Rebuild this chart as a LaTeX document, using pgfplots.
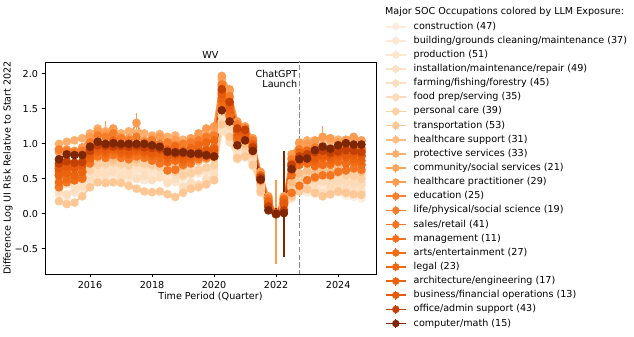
\documentclass[border=0pt]{standalone}
\usepackage{fontspec}
\setmainfont{DejaVu Sans}
\usepackage{pgfplots}
\pgfplotsset{compat=1.18}

\definecolor{o1}{HTML}{FEEDDC}
\definecolor{o2}{HTML}{FEE8D3}
\definecolor{o3}{HTML}{FEE5CC}
\definecolor{o4}{HTML}{FEE2C6}
\definecolor{o5}{HTML}{FDDFC0}
\definecolor{o6}{HTML}{FDDBB8}
\definecolor{o7}{HTML}{FDD0A4}
\definecolor{o8}{HTML}{FDC895}
\definecolor{o9}{HTML}{FDBE85}
\definecolor{o10}{HTML}{FDAF6D}
\definecolor{o11}{HTML}{FDA45D}
\definecolor{o12}{HTML}{FD9B51}
\definecolor{o13}{HTML}{F98230}
\definecolor{o14}{HTML}{F77C29}
\definecolor{o15}{HTML}{F57622}
\definecolor{o16}{HTML}{F3701C}
\definecolor{o17}{HTML}{F16C17}
\definecolor{o18}{HTML}{EE6712}
\definecolor{o19}{HTML}{EB620F}
\definecolor{o20}{HTML}{E65A0B}
\definecolor{o21}{HTML}{C44103}
\definecolor{o22}{HTML}{7F2704}
\definecolor{vline}{HTML}{8C8C8C}

\tikzset{ser/.style={color=#1, mark=*, mark size=3.4pt, line width=1.8pt, mark options={solid}}}

\begin{document}
\begin{tikzpicture}
\path[use as bounding box] (0,0) rectangle (634pt,337pt);
\begin{axis}[
  at={(45pt,63pt)}, anchor=south west,
  width=331pt, height=212pt, scale only axis,
  xmin=2014.55, xmax=2025.22, ymin=-0.86, ymax=2.17,
  xtick={2016,2018,2020,2022,2024}, xticklabels={2016,2018,2020,2022,2024},
  ytick={-0.5,0,0.5,1,1.5,2}, yticklabels={−0.5,0.0,0.5,1.0,1.5,2.0},
  tick align=outside, tick pos=left, major tick length=3.5pt,
  every tick/.style={black, line width=0.8pt},
  axis line style={line width=0.8pt},
  font=\fontsize{9.6}{11}\selectfont,
  title={WV},
  every axis title/.style={at={(axis description cs:0.5,1)}, anchor=base, yshift=3.7pt},
  xlabel={Time Period (Quarter)},
  xlabel style={at={(axis description cs:0.5,-0.108)}, anchor=center},
  ylabel={Difference Log UI Risk Relative to Start 2022},
  ylabel style={at={(axis description cs:-0.112,0.5)}, anchor=center},
  legend cell align=left,
  legend style={at={(axis description cs:1.027,1.191)}, anchor=north west,
    draw=none, fill=none, inner sep=0pt, outer sep=0pt, row sep=3.94pt, column sep=7pt,
    font=\fontsize{9.6}{11}\selectfont,
    nodes={inner sep=0pt, text height=7.3pt, text depth=2.2pt}},
  legend image code/.code={
    \draw[#1, mark=none] (0pt,0pt) -- (20pt,0pt);
    \draw[#1, mark=none, line width=1.2pt] (10pt,-4.5pt) -- (10pt,4.5pt);
    \draw[#1, only marks, mark size=2.8pt] plot coordinates {(10pt,0pt)};
  },
]
\addplot[ser=o1] coordinates {(2015,0.58)(2015.25,0.55)(2015.5,0.52)(2015.75,0.60)(2016,0.66)(2016.25,0.72)(2016.5,0.74)(2016.75,0.70)(2017,0.71)(2017.25,0.73)(2017.5,0.70)(2017.75,0.68)(2018,0.69)(2018.25,0.72)(2018.5,0.70)(2018.75,0.66)(2019,0.64)(2019.25,0.67)(2019.5,0.65)(2019.75,0.62)(2020,0.60)(2020.25,1.30)(2020.5,1.15)(2020.75,0.82)(2021,0.80)(2021.25,0.72)(2021.5,0.35)(2021.75,0.12)(2022,0.00)(2022.25,0.10)(2022.5,0.28)(2022.75,0.35)(2023,0.30)(2023.25,0.28)(2023.5,0.25)(2023.75,0.27)(2024,0.30)(2024.25,0.26)(2024.5,0.24)(2024.75,0.22)};
\addlegendentry{construction (47)}
\addplot[ser=o2] coordinates {(2015,0.28)(2015.25,0.25)(2015.5,0.30)(2015.75,0.35)(2016,0.45)(2016.25,0.52)(2016.5,0.50)(2016.75,0.55)(2017,0.52)(2017.25,0.50)(2017.5,0.54)(2017.75,0.48)(2018,0.50)(2018.25,0.52)(2018.5,0.47)(2018.75,0.45)(2019,0.40)(2019.25,0.44)(2019.5,0.42)(2019.75,0.45)(2020,0.50)(2020.25,1.20)(2020.5,1.05)(2020.75,0.78)(2021,0.85)(2021.25,0.70)(2021.5,0.32)(2021.75,0.15)(2022,0.00)(2022.25,0.08)(2022.5,0.30)(2022.75,0.38)(2023,0.35)(2023.25,0.32)(2023.5,0.38)(2023.75,0.30)(2024,0.34)(2024.25,0.32)(2024.5,0.36)(2024.75,0.30)};
\addlegendentry{building/grounds cleaning/maintenance (37)}
\addplot[ser=o3] coordinates {(2015,0.45)(2015.25,0.42)(2015.5,0.40)(2015.75,0.48)(2016,0.55)(2016.25,0.62)(2016.5,0.60)(2016.75,0.64)(2017,0.62)(2017.25,0.58)(2017.5,0.62)(2017.75,0.60)(2018,0.58)(2018.25,0.60)(2018.5,0.56)(2018.75,0.55)(2019,0.52)(2019.25,0.56)(2019.5,0.58)(2019.75,0.60)(2020,0.62)(2020.25,1.25)(2020.5,1.10)(2020.75,0.85)(2021,0.90)(2021.25,0.78)(2021.5,0.40)(2021.75,0.18)(2022,0.00)(2022.25,0.12)(2022.5,0.38)(2022.75,0.48)(2023,0.52)(2023.25,0.48)(2023.5,0.50)(2023.75,0.46)(2024,0.52)(2024.25,0.50)(2024.5,0.48)(2024.75,0.45)};
\addlegendentry{production (51)}
\addplot[ser=o4] coordinates {(2015,0.55)(2015.25,0.50)(2015.5,0.52)(2015.75,0.55)(2016,0.60)(2016.25,0.66)(2016.5,0.64)(2016.75,0.68)(2017,0.62)(2017.25,0.65)(2017.5,0.67)(2017.75,0.63)(2018,0.66)(2018.25,0.64)(2018.5,0.60)(2018.75,0.62)(2019,0.58)(2019.25,0.62)(2019.5,0.60)(2019.75,0.63)(2020,0.65)(2020.25,1.32)(2020.5,1.18)(2020.75,0.92)(2021,0.95)(2021.25,0.82)(2021.5,0.45)(2021.75,0.20)(2022,0.00)(2022.25,0.15)(2022.5,0.42)(2022.75,0.55)(2023,0.58)(2023.25,0.55)(2023.5,0.60)(2023.75,0.56)(2024,0.62)(2024.25,0.58)(2024.5,0.60)(2024.75,0.55)};
\addlegendentry{installation/maintenance/repair (49)}
\addplot[ser=o5] coordinates {(2015,0.32)(2015.25,0.28)(2015.5,0.35)(2015.75,0.40)(2016,0.50)(2016.25,0.58)(2016.5,0.55)(2016.75,0.60)(2017,0.52)(2017.25,0.56)(2017.5,0.50)(2017.75,0.54)(2018,0.48)(2018.25,0.52)(2018.5,0.44)(2018.75,0.50)(2019,0.38)(2019.25,0.45)(2019.5,0.42)(2019.75,0.50)(2020,0.55)(2020.25,1.18)(2020.5,1.02)(2020.75,0.78)(2021,0.82)(2021.25,0.68)(2021.5,0.30)(2021.75,0.10)(2022,0.00)(2022.25,0.05)(2022.5,0.22)(2022.75,0.35)(2023,0.40)(2023.25,0.36)(2023.5,0.30)(2023.75,0.38)(2024,0.42)(2024.25,0.35)(2024.5,0.40)(2024.75,0.33)};
\addlegendentry{farming/fishing/forestry (45)}
\addplot[ser=o6] coordinates {(2015,0.68)(2015.25,0.66)(2015.5,0.70)(2015.75,0.68)(2016,0.72)(2016.25,0.74)(2016.5,0.70)(2016.75,0.72)(2017,0.70)(2017.25,0.68)(2017.5,0.72)(2017.75,0.70)(2018,0.68)(2018.25,0.66)(2018.5,0.64)(2018.75,0.66)(2019,0.62)(2019.25,0.65)(2019.5,0.64)(2019.75,0.66)(2020,0.68)(2020.25,1.40)(2020.5,1.25)(2020.75,0.95)(2021,0.92)(2021.25,0.80)(2021.5,0.38)(2021.75,0.15)(2022,0.00)(2022.25,0.12)(2022.5,0.35)(2022.75,0.45)(2023,0.48)(2023.25,0.44)(2023.5,0.46)(2023.75,0.42)(2024,0.48)(2024.25,0.45)(2024.5,0.44)(2024.75,0.42)};
\addlegendentry{food prep/serving (35)}
\addplot[ser=o7] coordinates {(2015,0.50)(2015.25,0.46)(2015.5,0.48)(2015.75,0.52)(2016,0.62)(2016.25,0.70)(2016.5,0.72)(2016.75,0.74)(2017,0.72)(2017.25,0.70)(2017.5,0.74)(2017.75,0.72)(2018,0.70)(2018.25,0.68)(2018.5,0.62)(2018.75,0.60)(2019,0.55)(2019.25,0.58)(2019.5,0.62)(2019.75,0.66)(2020,0.70)(2020.25,1.45)(2020.5,1.28)(2020.75,0.98)(2021,0.96)(2021.25,0.85)(2021.5,0.42)(2021.75,0.18)(2022,0.00)(2022.25,0.14)(2022.5,0.40)(2022.75,0.50)(2023,0.52)(2023.25,0.50)(2023.5,0.55)(2023.75,0.52)(2024,0.58)(2024.25,0.55)(2024.5,0.54)(2024.75,0.50)};
\addlegendentry{personal care (39)}
\addplot[ser=o8] coordinates {(2015,0.18)(2015.25,0.14)(2015.5,0.16)(2015.75,0.25)(2016,0.38)(2016.25,0.45)(2016.5,0.44)(2016.75,0.45)(2017,0.44)(2017.25,0.40)(2017.5,0.36)(2017.75,0.32)(2018,0.31)(2018.25,0.32)(2018.5,0.28)(2018.75,0.24)(2019,0.30)(2019.25,0.36)(2019.5,0.38)(2019.75,0.42)(2020,0.48)(2020.25,1.28)(2020.5,1.10)(2020.75,0.80)(2021,0.82)(2021.25,0.70)(2021.5,0.32)(2021.75,0.12)(2022,0.00)(2022.25,0.08)(2022.5,0.25)(2022.75,0.32)(2023,0.35)(2023.25,0.30)(2023.5,0.25)(2023.75,0.28)(2024,0.32)(2024.25,0.30)(2024.5,0.28)(2024.75,0.27)};
\addlegendentry{transportation (53)}
\addplot[ser=o9] coordinates {(2015,0.62)(2015.25,0.58)(2015.5,0.60)(2015.75,0.65)(2016,0.72)(2016.25,0.80)(2016.5,0.82)(2016.75,0.78)(2017,0.80)(2017.25,0.82)(2017.5,0.78)(2017.75,0.80)(2018,0.76)(2018.25,0.78)(2018.5,0.72)(2018.75,0.70)(2019,0.68)(2019.25,0.72)(2019.5,0.75)(2019.75,0.78)(2020,0.80)(2020.25,1.50)(2020.5,1.32)(2020.75,1.00)(2021,1.00)(2021.25,0.88)(2021.5,0.45)(2021.75,0.20)(2022,0.00)(2022.25,0.15)(2022.5,0.45)(2022.75,0.58)(2023,0.62)(2023.25,0.58)(2023.5,0.65)(2023.75,0.60)(2024,0.66)(2024.25,0.62)(2024.5,0.64)(2024.75,0.60)};
\addlegendentry{healthcare support (31)}
\addplot[ser=o10] coordinates {(2015,1.00)(2015.25,1.03)(2015.5,1.05)(2015.75,1.08)(2016,1.15)(2016.25,1.22)(2016.5,1.18)(2016.75,1.20)(2017,1.15)(2017.25,1.18)(2017.5,1.15)(2017.75,1.15)(2018,1.12)(2018.25,1.14)(2018.5,1.10)(2018.75,1.12)(2019,1.06)(2019.25,1.05)(2019.5,1.08)(2019.75,1.12)(2020,1.20)(2020.25,1.92)(2020.5,1.75)(2020.75,1.30)(2021,1.22)(2021.25,1.05)(2021.5,0.58)(2021.75,0.22)(2022,0.00)(2022.25,0.22)(2022.5,0.80)(2022.75,1.00)(2023,1.05)(2023.25,1.02)(2023.5,1.08)(2023.75,1.04)(2024,1.06)(2024.25,1.05)(2024.5,1.08)(2024.75,1.04)};
\addlegendentry{protective services (33)}
\addplot[ser=o11] coordinates {(2015,0.65)(2015.25,0.68)(2015.5,0.70)(2015.75,0.72)(2016,0.95)(2016.25,1.05)(2016.5,1.00)(2016.75,1.08)(2017,0.98)(2017.25,1.02)(2017.5,1.00)(2017.75,0.98)(2018,1.02)(2018.25,0.96)(2018.5,0.98)(2018.75,1.05)(2019,0.95)(2019.25,1.00)(2019.5,1.02)(2019.75,1.10)(2020,1.15)(2020.25,1.82)(2020.5,1.65)(2020.75,1.22)(2021,1.18)(2021.25,1.02)(2021.5,0.55)(2021.75,0.20)(2022,0.00)(2022.25,0.20)(2022.5,0.72)(2022.75,0.92)(2023,0.95)(2023.25,0.92)(2023.5,0.98)(2023.75,0.94)(2024,0.96)(2024.25,0.95)(2024.5,0.98)(2024.75,0.92)};
\addlegendentry{community/social services (21)}
\addplot[ser=o12, error bars/.cd, y dir=both, y explicit, error mark=none, error bar style={line width=1.3pt}] coordinates {
(2015,0.88) +- (0,0.04) (2015.25,0.92) +- (0,0.04) (2015.5,0.90) +- (0,0.04) (2015.75,0.95) +- (0,0.04)
(2016,1.10) +- (0,0.04) (2016.25,1.18) +- (0,0.06) (2016.5,1.15) +- (0,0.18) (2016.75,1.22) +- (0,0.05)
(2017,1.10) +- (0,0.04) (2017.25,1.08) +- (0,0.04) (2017.5,1.30) +- (0,0.14) (2017.75,1.05) +- (0,0.04)
(2018,1.08) +- (0,0.04) (2018.25,1.10) +- (0,0.04) (2018.5,1.02) +- (0,0.04) (2018.75,1.05) +- (0,0.04)
(2019,1.00) +- (0,0.04) (2019.25,1.08) +- (0,0.04) (2019.5,1.15) +- (0,0.04) (2019.75,1.22) +- (0,0.04)
(2020,1.25) +- (0,0.04) (2020.25,1.97) +- (0,0.06) (2020.5,1.78) +- (0,0.05) (2020.75,1.32) +- (0,0.05)
(2021,1.25) +- (0,0.05) (2021.25,1.08) +- (0,0.05) (2021.5,0.60) +- (0,0.05) (2021.75,0.25) +- (0,0.05)
(2022,0.00) += (0,0.48) -= (0,0.72) (2022.25,0.25) +- (0,0.08) (2022.5,0.85) +- (0,0.05) (2022.75,1.02) +- (0,0.04)
(2023,1.00) +- (0,0.04) (2023.25,1.05) +- (0,0.04) (2023.5,1.10) +- (0,0.15) (2023.75,1.08) +- (0,0.04)
(2024,1.02) +- (0,0.04) (2024.25,1.06) +- (0,0.04) (2024.5,1.10) +- (0,0.04) (2024.75,1.05) +- (0,0.04)};
\addlegendentry{healthcare practitioner (29)}
\addplot[ser=o13] coordinates {(2015,0.55)(2015.25,0.58)(2015.5,0.52)(2015.75,0.60)(2016,0.85)(2016.25,0.95)(2016.5,0.90)(2016.75,0.98)(2017,0.88)(2017.25,0.92)(2017.5,0.90)(2017.75,0.86)(2018,0.90)(2018.25,0.88)(2018.5,0.80)(2018.75,0.85)(2019,0.82)(2019.25,0.86)(2019.5,0.90)(2019.75,0.92)(2020,0.95)(2020.25,1.65)(2020.5,1.48)(2020.75,1.12)(2021,1.10)(2021.25,0.95)(2021.5,0.50)(2021.75,0.18)(2022,0.00)(2022.25,0.18)(2022.5,0.62)(2022.75,0.78)(2023,0.80)(2023.25,0.75)(2023.5,0.72)(2023.75,0.70)(2024,0.74)(2024.25,0.72)(2024.5,0.75)(2024.75,0.70)};
\addlegendentry{education (25)}
\addplot[ser=o14] coordinates {(2015,0.92)(2015.25,0.90)(2015.5,0.88)(2015.75,0.90)(2016,1.02)(2016.25,1.12)(2016.5,1.10)(2016.75,1.15)(2017,1.08)(2017.25,1.05)(2017.5,1.10)(2017.75,1.02)(2018,1.05)(2018.25,1.00)(2018.5,1.02)(2018.75,0.98)(2019,1.00)(2019.25,1.02)(2019.5,1.05)(2019.75,1.10)(2020,1.12)(2020.25,1.85)(2020.5,1.68)(2020.75,1.28)(2021,1.22)(2021.25,1.05)(2021.5,0.55)(2021.75,0.22)(2022,0.00)(2022.25,0.22)(2022.5,0.78)(2022.75,0.92)(2023,0.90)(2023.25,0.95)(2023.5,0.92)(2023.75,0.88)(2024,0.95)(2024.25,0.92)(2024.5,0.90)(2024.75,0.94)};
\addlegendentry{life/physical/social science (19)}
\addplot[ser=o15] coordinates {(2015,0.38)(2015.25,0.45)(2015.5,0.48)(2015.75,0.50)(2016,0.72)(2016.25,0.82)(2016.5,0.80)(2016.75,0.84)(2017,0.80)(2017.25,0.78)(2017.5,0.82)(2017.75,0.80)(2018,0.76)(2018.25,0.72)(2018.5,0.62)(2018.75,0.63)(2019,0.70)(2019.25,0.72)(2019.5,0.78)(2019.75,0.80)(2020,0.82)(2020.25,1.55)(2020.5,1.40)(2020.75,1.05)(2021,1.08)(2021.25,0.92)(2021.5,0.48)(2021.75,0.15)(2022,0.00)(2022.25,0.12)(2022.5,0.30)(2022.75,0.40)(2023,0.48)(2023.25,0.52)(2023.5,0.55)(2023.75,0.55)(2024,0.60)(2024.25,0.62)(2024.5,0.65)(2024.75,0.63)};
\addlegendentry{sales/retail (41)}
\addplot[ser=o16] coordinates {(2015,0.68)(2015.25,0.70)(2015.5,0.72)(2015.75,0.74)(2016,0.88)(2016.25,0.95)(2016.5,0.92)(2016.75,0.96)(2017,0.94)(2017.25,0.92)(2017.5,0.95)(2017.75,0.92)(2018,0.90)(2018.25,0.92)(2018.5,0.86)(2018.75,0.88)(2019,0.85)(2019.25,0.88)(2019.5,0.90)(2019.75,0.92)(2020,0.95)(2020.25,1.70)(2020.5,1.52)(2020.75,1.18)(2021,1.15)(2021.25,0.98)(2021.5,0.52)(2021.75,0.15)(2022,0.00)(2022.25,0.18)(2022.5,0.68)(2022.75,0.82)(2023,0.85)(2023.25,0.82)(2023.5,0.86)(2023.75,0.84)(2024,0.88)(2024.25,0.85)(2024.5,0.86)(2024.75,0.84)};
\addlegendentry{management (11)}
\addplot[ser=o17] coordinates {(2015,0.45)(2015.25,0.50)(2015.5,0.48)(2015.75,0.52)(2016,0.78)(2016.25,0.88)(2016.5,0.85)(2016.75,0.90)(2017,0.86)(2017.25,0.84)(2017.5,0.88)(2017.75,0.85)(2018,0.82)(2018.25,0.80)(2018.5,0.74)(2018.75,0.76)(2019,0.74)(2019.25,0.78)(2019.5,0.82)(2019.75,0.84)(2020,0.86)(2020.25,1.60)(2020.5,1.42)(2020.75,1.08)(2021,1.05)(2021.25,0.90)(2021.5,0.48)(2021.75,0.15)(2022,0.00)(2022.25,0.15)(2022.5,0.55)(2022.75,0.70)(2023,0.72)(2023.25,0.68)(2023.5,0.70)(2023.75,0.72)(2024,0.75)(2024.25,0.72)(2024.5,0.74)(2024.75,0.70)};
\addlegendentry{arts/entertainment (27)}
\addplot[ser=o18] coordinates {(2015,0.60)(2015.25,0.62)(2015.5,0.65)(2015.75,0.68)(2016,0.92)(2016.25,1.02)(2016.5,0.98)(2016.75,1.05)(2017,0.96)(2017.25,1.00)(2017.5,0.98)(2017.75,0.95)(2018,0.98)(2018.25,0.94)(2018.5,0.92)(2018.75,0.96)(2019,0.90)(2019.25,0.94)(2019.5,0.98)(2019.75,1.02)(2020,1.05)(2020.25,1.75)(2020.5,1.58)(2020.75,1.20)(2021,1.18)(2021.25,1.00)(2021.5,0.55)(2021.75,0.18)(2022,0.00)(2022.25,0.20)(2022.5,0.72)(2022.75,0.88)(2023,0.90)(2023.25,0.88)(2023.5,0.92)(2023.75,0.90)(2024,0.95)(2024.25,0.92)(2024.5,0.94)(2024.75,0.90)};
\addlegendentry{legal (23)}
\addplot[ser=o19] coordinates {(2015,0.55)(2015.25,0.58)(2015.5,0.55)(2015.75,0.60)(2016,0.80)(2016.25,0.90)(2016.5,0.88)(2016.75,0.92)(2017,0.88)(2017.25,0.86)(2017.5,0.90)(2017.75,0.88)(2018,0.85)(2018.25,0.86)(2018.5,0.80)(2018.75,0.82)(2019,0.78)(2019.25,0.82)(2019.5,0.86)(2019.75,0.88)(2020,0.90)(2020.25,1.65)(2020.5,1.48)(2020.75,1.12)(2021,1.10)(2021.25,0.95)(2021.5,0.50)(2021.75,0.15)(2022,0.00)(2022.25,0.15)(2022.5,0.62)(2022.75,0.76)(2023,0.78)(2023.25,0.75)(2023.5,0.80)(2023.75,0.78)(2024,0.82)(2024.25,0.80)(2024.5,0.78)(2024.75,0.76)};
\addlegendentry{architecture/engineering (17)}
\addplot[ser=o20] coordinates {(2015,0.65)(2015.25,0.68)(2015.5,0.66)(2015.75,0.70)(2016,0.86)(2016.25,0.95)(2016.5,0.92)(2016.75,0.96)(2017,0.92)(2017.25,0.90)(2017.5,0.93)(2017.75,0.90)(2018,0.88)(2018.25,0.90)(2018.5,0.84)(2018.75,0.86)(2019,0.84)(2019.25,0.86)(2019.5,0.88)(2019.75,0.90)(2020,0.92)(2020.25,1.72)(2020.5,1.55)(2020.75,1.18)(2021,1.15)(2021.25,0.98)(2021.5,0.52)(2021.75,0.12)(2022,0.00)(2022.25,0.15)(2022.5,0.68)(2022.75,0.80)(2023,0.82)(2023.25,0.80)(2023.5,0.84)(2023.75,0.82)(2024,0.86)(2024.25,0.84)(2024.5,0.85)(2024.75,0.82)};
\addlegendentry{business/financial operations (13)}
\addplot[ser=o21] coordinates {(2015,0.72)(2015.25,0.75)(2015.5,0.73)(2015.75,0.74)(2016,0.90)(2016.25,0.98)(2016.5,0.97)(2016.75,0.96)(2017,0.97)(2017.25,0.96)(2017.5,0.97)(2017.75,0.95)(2018,0.94)(2018.25,0.93)(2018.5,0.88)(2018.75,0.86)(2019,0.87)(2019.25,0.86)(2019.5,0.85)(2019.75,0.83)(2020,0.82)(2020.25,1.78)(2020.5,1.60)(2020.75,1.22)(2021,1.20)(2021.25,0.95)(2021.5,0.52)(2021.75,0.10)(2022,0.00)(2022.25,0.05)(2022.5,0.70)(2022.75,0.82)(2023,0.85)(2023.25,0.88)(2023.5,0.90)(2023.75,0.87)(2024,0.89)(2024.25,0.91)(2024.5,0.90)(2024.75,0.88)};
\addlegendentry{office/admin support (43)}
\addplot[ser=o22, error bars/.cd, y dir=both, y explicit, error mark=none, error bar style={line width=1.3pt}] coordinates {
(2015,0.78) +- (0,0.03) (2015.25,0.85) +- (0,0.03) (2015.5,0.84) +- (0,0.03) (2015.75,0.84) +- (0,0.03)
(2016,0.96) +- (0,0.03) (2016.25,1.03) +- (0,0.03) (2016.5,1.00) +- (0,0.03) (2016.75,1.01) +- (0,0.03)
(2017,1.00) +- (0,0.03) (2017.25,1.00) +- (0,0.03) (2017.5,1.00) +- (0,0.03) (2017.75,1.00) +- (0,0.03)
(2018,0.98) +- (0,0.03) (2018.25,0.96) +- (0,0.03) (2018.5,0.89) +- (0,0.03) (2018.75,0.88) +- (0,0.03)
(2019,0.88) +- (0,0.03) (2019.25,0.86) +- (0,0.03) (2019.5,0.86) +- (0,0.03) (2019.75,0.84) +- (0,0.03)
(2020,0.82) +- (0,0.03) (2020.25,1.48) +- (0,0.04) (2020.5,1.32) +- (0,0.04) (2020.75,0.98) +- (0,0.04)
(2021,1.05) +- (0,0.04) (2021.25,0.90) +- (0,0.04) (2021.5,0.49) +- (0,0.04) (2021.75,0.05) +- (0,0.05)
(2022,0.00) +- (0,0.08) (2022.25,0.01) += (0,0.89) -= (0,0.62) (2022.5,0.64) +- (0,0.04) (2022.75,0.78) +- (0,0.03)
(2023,0.79) +- (0,0.03) (2023.25,0.91) +- (0,0.03) (2023.5,0.96) +- (0,0.03) (2023.75,0.93) +- (0,0.03)
(2024,0.98) +- (0,0.03) (2024.25,1.01) +- (0,0.03) (2024.5,0.99) +- (0,0.03) (2024.75,0.99) +- (0,0.03)};
\addlegendentry{computer/math (15)}
\addplot[vline, line width=1.6pt, dash pattern=on 5.5pt off 2.4pt, forget plot] coordinates {(2022.75,-1) (2022.75,3)};
\node[anchor=north east, align=right, inner sep=0pt, xshift=-2pt, font=\fontsize{9.6}{10}\selectfont] at (axis cs:2022.75,2.05) {ChatGPT\\Launch};
\end{axis}
\node[anchor=base west, inner sep=0pt, font=\fontsize{9.6}{11}\selectfont] at (385pt,322pt) {Major SOC Occupations colored by LLM Exposure:};
\end{tikzpicture}
\end{document}
